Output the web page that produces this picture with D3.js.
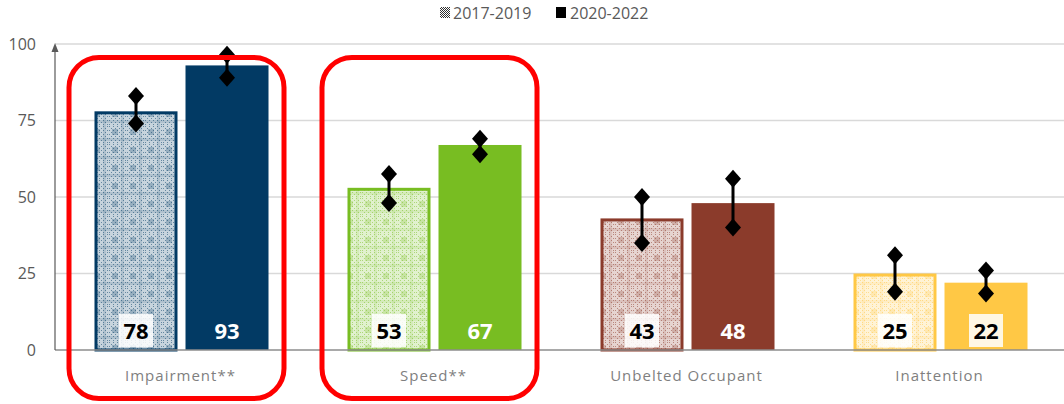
<!DOCTYPE html>
<html>
<head>
<meta charset="utf-8">
<script src="https://cdn.jsdelivr.net/npm/d3@7"></script>
<style>
  body { margin: 0; background: #fff; }
  svg { display: block; font-family: "Open Sans", "Noto Sans", sans-serif; }
</style>
</head>
<body>
<svg id="chart" width="1064" height="404"></svg>
<script>
// data
const categories = ["Impairment**", "Speed**", "Unbelted Occupant", "Inattention"];
const series = ["2017-2019", "2020-2022"];
const values2017 = [78, 53, 43, 25];
const values2020 = [93, 67, 48, 22];
const low2017 = [74, 48, 35, 19];
const high2017 = [83, 57.5, 50, 31];
const low2020 = [89, 64, 40, 18.5];
const high2020 = [96.5, 69, 56, 26];
const yTicks = [0, 25, 50, 75, 100];
const highlighted = ["Impairment**", "Speed**"];

const colors = ["#023a64", "#78bd22", "#8b3b2b", "#ffc845"];
const lightBar = [false, false, false, true]; // solid bar light enough for dark label

const svg = d3.select("#chart");
const W = 1064, H = 404;

const x = d3.scaleBand().domain(categories).range([55, 1067]);
const xs = d3.scaleBand().domain(series).range([0, x.bandwidth()])
  .paddingInner(0.088).paddingOuter(0.434);
const y = d3.scaleLinear().domain([0, 100]).range([350, 44]);

// patterns for the older period
const defs = svg.append("defs");
colors.forEach((c, i) => {
  const p = defs.append("pattern")
    .attr("id", "pat" + i)
    .attr("patternUnits", "userSpaceOnUse")
    .attr("width", 18).attr("height", 18);
  p.append("rect").attr("width", 18).attr("height", 18).attr("fill", "#fff");
  p.append("rect").attr("width", 18).attr("height", 18).attr("fill", c).attr("opacity", 0.22);
  // fine checker
  for (let a = 0; a < 18; a += 2) {
    for (let b = 0; b < 18; b += 2) {
      if (((a + b) / 2) % 2 === 0) {
        p.append("rect").attr("x", a).attr("y", b).attr("width", 1).attr("height", 1)
          .attr("fill", c).attr("opacity", 0.5);
      }
    }
  }
  // plaid blocks
  p.append("rect").attr("x", 3).attr("y", 3).attr("width", 6).attr("height", 6)
    .attr("fill", c).attr("opacity", 0.25);
  p.append("rect").attr("x", 12).attr("y", 0).attr("width", 3).attr("height", 18)
    .attr("fill", c).attr("opacity", 0.12);
  p.append("rect").attr("x", 0).attr("y", 12).attr("width", 18).attr("height", 3)
    .attr("fill", c).attr("opacity", 0.12);
});
const legPat = defs.append("pattern").attr("id", "legpat")
  .attr("patternUnits", "userSpaceOnUse").attr("width", 2).attr("height", 2);
legPat.append("rect").attr("width", 2).attr("height", 2).attr("fill", "#fff");
legPat.append("rect").attr("width", 1).attr("height", 1).attr("fill", "#333");
legPat.append("rect").attr("x", 1).attr("y", 1).attr("width", 1).attr("height", 1).attr("fill", "#333");

// gridlines
svg.append("g").selectAll("line")
  .data(yTicks.filter(d => d > 0))
  .join("line")
  .attr("x1", 55).attr("x2", W)
  .attr("y1", d => y(d)).attr("y2", d => y(d))
  .attr("stroke", "#d9d9d9").attr("stroke-width", 1.5);

// y tick labels
svg.append("g").selectAll("text")
  .data(yTicks)
  .join("text")
  .attr("x", 36).attr("y", d => y(d))
  .attr("dy", "0.35em")
  .attr("text-anchor", "end")
  .attr("fill", "#595959")
  .style("font-size", "16px")
  .text(d => d);

// bars
const rows = categories.map((c, i) => ({
  cat: c, i,
  bars: [
    { s: series[0], v: values2017[i], lo: low2017[i], hi: high2017[i] },
    { s: series[1], v: values2020[i], lo: low2020[i], hi: high2020[i] }
  ]
}));

const groups = svg.append("g").selectAll("g")
  .data(rows)
  .join("g")
  .attr("transform", d => `translate(${x(d.cat)},0)`);

groups.each(function (d) {
  const g = d3.select(this);
  d.bars.forEach((b, k) => {
    const bx = xs(b.s), bw = xs.bandwidth();
    g.append("rect")
      .attr("x", bx + (k === 0 ? 1.5 : 0))
      .attr("y", y(b.v) + (k === 0 ? 1.5 : 0))
      .attr("width", bw - (k === 0 ? 3 : 0))
      .attr("height", y(0) - y(b.v) - (k === 0 ? 1.5 : 0))
      .attr("fill", k === 0 ? `url(#pat${d.i})` : colors[d.i])
      .attr("stroke", colors[d.i])
      .attr("stroke-width", k === 0 ? 3 : 0);

    const cx = bx + bw / 2;
    const boxed = k === 0 || lightBar[d.i];
    if (boxed) {
      g.append("rect")
        .attr("x", cx - 17).attr("y", 314)
        .attr("width", 34).attr("height", 33)
        .attr("fill", "#fff").attr("opacity", 0.85);
    }
    g.append("text")
      .attr("x", cx).attr("y", 331)
      .attr("dy", "0.36em")
      .attr("text-anchor", "middle")
      .attr("fill", boxed ? "#000" : "#fff")
      .style("font-size", "22px")
      .style("font-weight", "700")
      .text(b.v);

    // error bar
    g.append("line")
      .attr("x1", cx).attr("x2", cx)
      .attr("y1", y(b.hi)).attr("y2", y(b.lo))
      .attr("stroke", "#000").attr("stroke-width", 3);
    [b.hi, b.lo].forEach(v => {
      g.append("path")
        .attr("transform", `translate(${cx},${y(v)})`)
        .attr("d", "M0,-9L8,0L0,9L-8,0Z")
        .attr("fill", "#000");
    });
  });
});

// axes lines
svg.append("line")
  .attr("x1", 55).attr("x2", W)
  .attr("y1", y(0)).attr("y2", y(0))
  .attr("stroke", "#8c8c8c").attr("stroke-width", 1.5);
svg.append("line")
  .attr("x1", 55).attr("x2", 55)
  .attr("y1", y(0)).attr("y2", y(100) + 4)
  .attr("stroke", "#595959").attr("stroke-width", 1.2);
svg.append("path")
  .attr("d", `M55,${y(100) - 1}L51.5,${y(100) + 8}L58.5,${y(100) + 8}Z`)
  .attr("fill", "#595959");

// category labels
svg.append("g").selectAll("text")
  .data(categories)
  .join("text")
  .attr("x", d => x(d) + x.bandwidth() / 2 - 1)
  .attr("y", 381)
  .attr("text-anchor", "middle")
  .attr("fill", "#7f7f7f")
  .style("font-size", "15px")
  .style("letter-spacing", "1px")
  .text(d => d);

// red highlight boxes
svg.append("g").selectAll("rect")
  .data(highlighted)
  .join("rect")
  .attr("x", d => x(d) + 14)
  .attr("y", 57.5)
  .attr("width", 215)
  .attr("height", 341)
  .attr("rx", 30).attr("ry", 30)
  .attr("fill", "none")
  .attr("stroke", "#ff0000")
  .attr("stroke-width", 5);

// legend
const leg = svg.append("g").style("font-size", "16px").attr("fill", "#595959");
leg.append("rect").attr("x", 440).attr("y", 7).attr("width", 10).attr("height", 11)
  .attr("fill", "url(#legpat)");
leg.append("text").attr("x", 453).attr("y", 19).text(series[0]);
leg.append("rect").attr("x", 556).attr("y", 7).attr("width", 10).attr("height", 11)
  .attr("fill", "#000");
leg.append("text").attr("x", 570).attr("y", 19).text(series[1]);
</script>
</body>
</html>
